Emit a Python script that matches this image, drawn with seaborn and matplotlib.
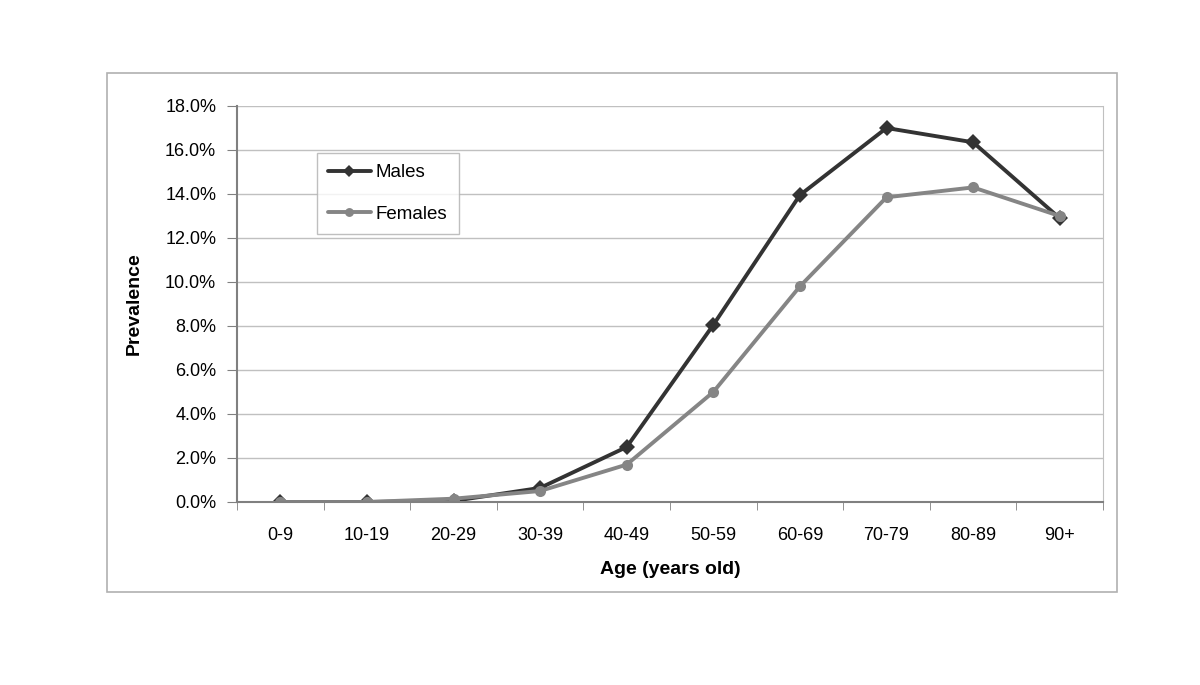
import matplotlib
matplotlib.use("Agg")
import matplotlib.pyplot as plt
import seaborn as sns
import pandas as pd
from matplotlib.patches import Rectangle
from matplotlib.ticker import FuncFormatter, FixedLocator

age_groups = ["0-9", "10-19", "20-29", "30-39", "40-49", "50-59", "60-69", "70-79", "80-89", "90+"]
males = [0.0, 0.0, 0.05, 0.64, 2.5, 8.05, 13.95, 17.0, 16.35, 12.9]
females = [0.0, 0.0, 0.15, 0.5, 1.7, 5.0, 9.8, 13.85, 14.3, 13.0]

sns.set_style("white")
plt.rcParams["font.family"] = ["Liberation Sans", "DejaVu Sans"]
plt.rcParams["text.color"] = "black"
plt.rcParams["axes.labelcolor"] = "black"

df = pd.DataFrame({
    "pos": list(range(len(age_groups))) * 2,
    "value": males + females,
    "sex": ["Males"] * len(males) + ["Females"] * len(females),
})

fig = plt.figure(figsize=(12, 6.85), dpi=100)
fig.patches.append(Rectangle((107 / 1200, 1 - 592 / 685), 1010 / 1200, 519 / 685,
                             transform=fig.transFigure, fill=False,
                             edgecolor="#b0b0b0", linewidth=1.2))
ax = fig.add_axes([237 / 1200, 1 - 502 / 685, 866 / 1200, 396 / 685])

sns.lineplot(data=df, x="pos", y="value", hue="sex", style="sex",
             palette={"Males": "#333333", "Females": "#858585"},
             markers={"Males": "D", "Females": "o"}, dashes=False,
             markersize=8, linewidth=2.8, markeredgewidth=0, ax=ax,
             hue_order=["Males", "Females"], style_order=["Males", "Females"])

ax.set_xlim(-0.5, len(age_groups) - 0.5)
ax.set_ylim(0, 18)
ax.set_yticks(range(0, 19, 2))
ax.yaxis.set_major_formatter(FuncFormatter(lambda v, _: f"{v:.1f}%"))
ax.set_xticks(range(len(age_groups)))
ax.set_xticklabels(age_groups)
ax.xaxis.set_minor_locator(FixedLocator([i - 0.5 for i in range(len(age_groups) + 1)]))
ax.tick_params(axis="x", which="major", length=0, pad=18, labelsize=13, labelcolor="black")
ax.tick_params(axis="x", which="minor", length=6, bottom=True, color="#808080")
ax.tick_params(axis="y", length=7, left=True, pad=8, labelsize=13, color="#808080",
               labelcolor="black")
ax.grid(axis="y", color="#c0c0c0", linewidth=1)
ax.set_axisbelow(True)

for side in ["left", "bottom"]:
    ax.spines[side].set_color("#808080")
    ax.spines[side].set_linewidth(1.5)
ax.spines["right"].set_color("#c0c0c0")
ax.spines["top"].set_visible(False)

ax.set_xlabel("Age (years old)", fontsize=14, fontweight="bold", labelpad=12)
ax.set_ylabel("Prevalence", fontsize=14, fontweight="bold", labelpad=16)

leg = ax.legend(loc="upper left", bbox_to_anchor=(0.092, 0.881), fontsize=13.5,
                frameon=True, fancybox=False, edgecolor="#b0b0b0", markerscale=0.8,
                handlelength=2.3, borderpad=0.6, labelspacing=1.3, handletextpad=0.25,
                borderaxespad=0)
leg.get_frame().set_linewidth(1)

fig.savefig("out.png", dpi=100, facecolor="white")
